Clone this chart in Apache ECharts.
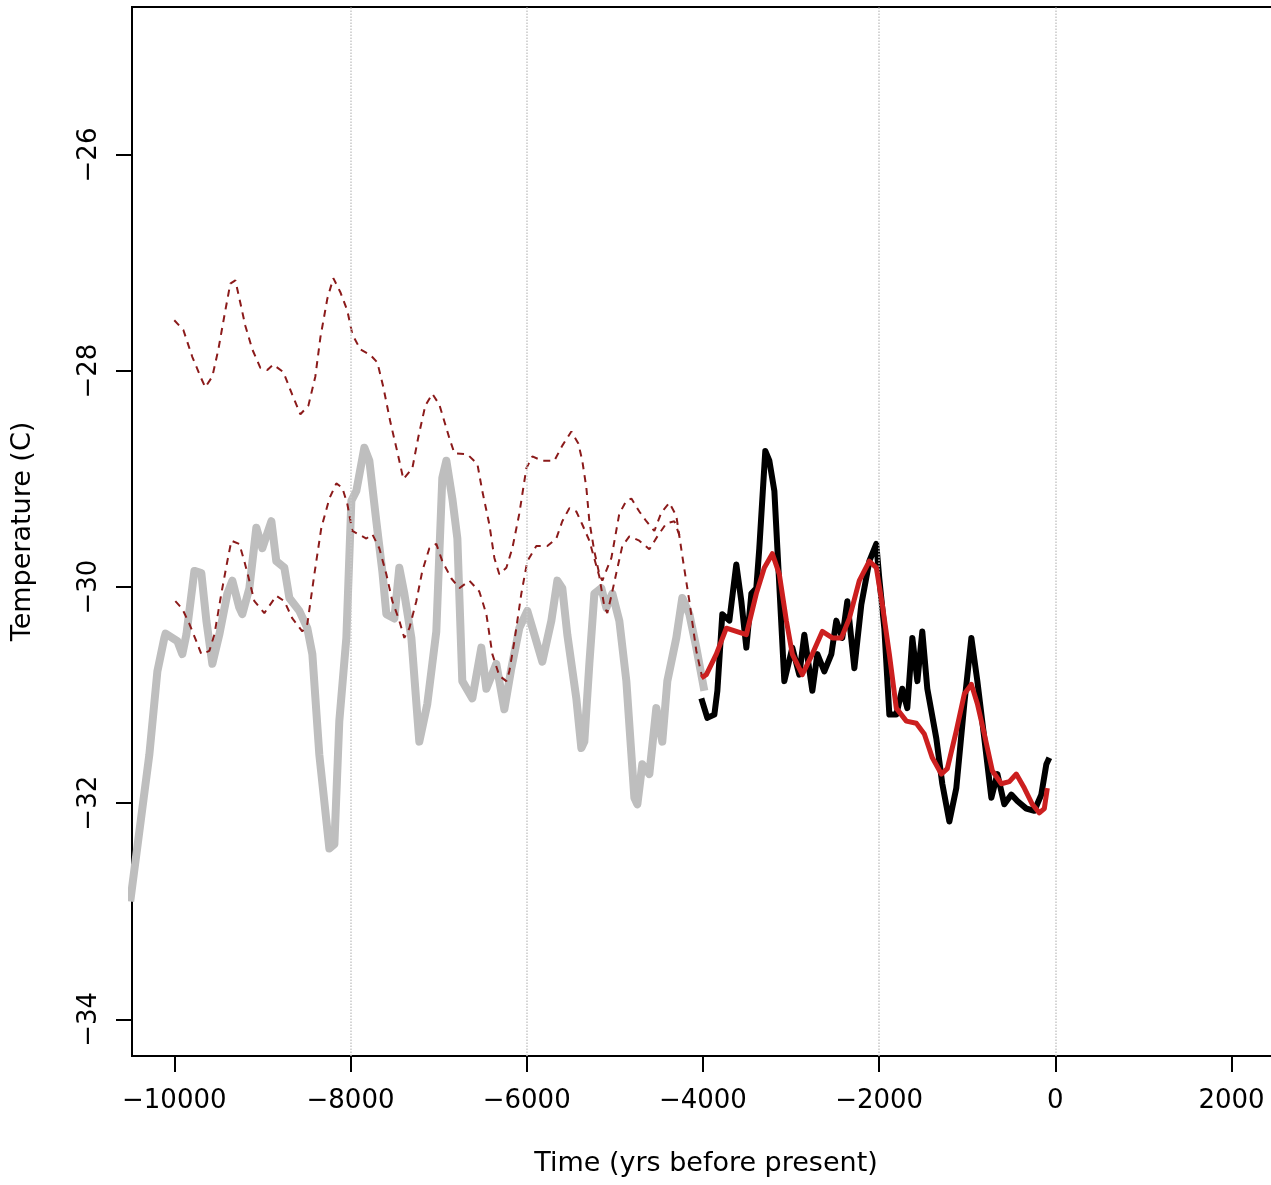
<!DOCTYPE html>
<html>
<head>
<meta charset="utf-8">
<script src="https://cdn.jsdelivr.net/npm/echarts@6/dist/echarts.min.js"></script>
<style>
html,body{margin:0;padding:0;background:#fff;overflow:hidden;width:1271px;height:1185px;}
#chart{width:1400px;height:1185px;}
</style>
</head>
<body>
<div id="chart"></div>
<script>
// ---- Data (years before present, temperature in C) ----
var xTicks = [-10000, -8000, -6000, -4000, -2000, 0, 2000];
var yTicks = [-34, -32, -30, -28, -26];
var gridYears = [-8000, -6000, -2000, 0];

var grayYears = [-10500,-10283,-10192,-10113,-10099,-9965,-9909,-9863,-9772,-9693,-9636,-9568,-9489,-9398,-9341,-9262,-9228,-9148,-9069,-9001,-8898,-8842,-8751,-8694,-8581,-8490,-8433,-8354,-8240,-8183,-8127,-8047,-7990,-7934,-7843,-7786,-7707,-7639,-7593,-7502,-7446,-7389,-7309,-7219,-7128,-7026,-6958,-6912,-6844,-6787,-6731,-6617,-6515,-6458,-6345,-6254,-6174,-6084,-5993,-5913,-5823,-5720,-5652,-5596,-5539,-5437,-5380,-5346,-5289,-5232,-5153,-5096,-5028,-4949,-4869,-4778,-4744,-4688,-4608,-4529,-4461,-4404,-4302,-4234,-4154,-4075,-4018,-3984];
var grayTemps = [-32.91,-31.55,-30.78,-30.47,-30.43,-30.50,-30.62,-30.44,-29.85,-29.87,-30.31,-30.71,-30.44,-30.06,-29.94,-30.19,-30.25,-30.01,-29.45,-29.64,-29.39,-29.76,-29.82,-30.10,-30.22,-30.38,-30.62,-31.55,-32.42,-32.38,-31.24,-30.47,-29.20,-29.11,-28.71,-28.83,-29.39,-29.85,-30.25,-30.29,-29.82,-30.06,-30.47,-31.43,-31.08,-30.41,-28.99,-28.83,-29.18,-29.55,-30.87,-31.03,-30.56,-30.94,-30.71,-31.13,-30.75,-30.38,-30.22,-30.44,-30.69,-30.31,-29.94,-30.01,-30.44,-31.03,-31.49,-31.43,-30.71,-30.06,-30.01,-30.19,-30.06,-30.31,-30.87,-31.95,-32.01,-31.64,-31.73,-31.12,-31.43,-30.87,-30.47,-30.10,-30.25,-30.56,-30.81,-30.96];

var blackYears = [-4018,-3950,-3870,-3836,-3780,-3700,-3621,-3564,-3507,-3450,-3394,-3360,-3292,-3246,-3189,-3155,-3076,-2985,-2906,-2849,-2758,-2701,-2622,-2542,-2486,-2418,-2361,-2281,-2202,-2111,-2032,-1998,-1941,-1884,-1805,-1737,-1680,-1623,-1566,-1510,-1453,-1351,-1283,-1203,-1124,-1033,-953,-885,-806,-726,-658,-579,-499,-431,-329,-238,-159,-102,-68];
var blackTemps = [-31.03,-31.21,-31.18,-30.96,-30.25,-30.31,-29.79,-30.13,-30.56,-30.06,-30.01,-29.64,-28.74,-28.83,-29.11,-29.64,-30.87,-30.56,-30.81,-30.44,-30.96,-30.62,-30.78,-30.62,-30.31,-30.47,-30.13,-30.75,-30.16,-29.76,-29.60,-29.92,-30.38,-31.18,-31.18,-30.94,-31.12,-30.47,-30.87,-30.41,-30.94,-31.40,-31.82,-32.17,-31.86,-31.08,-30.47,-30.87,-31.40,-31.95,-31.73,-32.01,-31.92,-31.98,-32.05,-32.07,-31.92,-31.64,-31.58];

var redYears = [-4018,-3961,-3848,-3734,-3621,-3507,-3394,-3303,-3212,-3133,-3053,-2985,-2872,-2758,-2645,-2531,-2429,-2338,-2225,-2111,-2032,-1964,-1884,-1805,-1691,-1578,-1487,-1396,-1294,-1226,-1124,-1033,-953,-885,-806,-715,-613,-522,-443,-352,-261,-182,-125,-91];
var redTemps = [-30.84,-30.81,-30.62,-30.38,-30.41,-30.44,-30.06,-29.82,-29.69,-29.88,-30.31,-30.62,-30.81,-30.62,-30.41,-30.47,-30.47,-30.29,-29.94,-29.76,-29.82,-30.16,-30.62,-31.12,-31.24,-31.26,-31.36,-31.58,-31.73,-31.68,-31.33,-30.99,-30.90,-31.08,-31.36,-31.70,-31.82,-31.80,-31.73,-31.86,-32.01,-32.09,-32.05,-31.86];

var upperYears = [-10000,-9897,-9795,-9704,-9648,-9568,-9500,-9421,-9364,-9307,-9250,-9194,-9114,-9023,-8944,-8876,-8762,-8660,-8569,-8478,-8399,-8342,-8263,-8195,-8115,-8036,-7979,-7888,-7775,-7695,-7627,-7548,-7468,-7400,-7298,-7230,-7151,-7071,-6992,-6878,-6821,-6674,-6560,-6504,-6424,-6367,-6311,-6231,-6163,-6084,-6004,-5936,-5823,-5686,-5596,-5493,-5414,-5369,-5323,-5289,-5232,-5176,-5142,-5039,-4949,-4869,-4812,-4722,-4642,-4551,-4472,-4381,-4302,-4234,-4154,-4075,-4007];
var upperTemps = [-27.53,-27.62,-27.87,-28.05,-28.15,-28.05,-27.80,-27.44,-27.19,-27.16,-27.37,-27.58,-27.80,-27.97,-27.99,-27.94,-28.01,-28.22,-28.40,-28.32,-28.05,-27.69,-27.33,-27.14,-27.27,-27.44,-27.66,-27.80,-27.85,-27.92,-28.15,-28.47,-28.75,-29.00,-28.90,-28.61,-28.32,-28.21,-28.31,-28.62,-28.76,-28.77,-28.86,-29.11,-29.42,-29.73,-29.88,-29.82,-29.64,-29.32,-28.90,-28.79,-28.83,-28.83,-28.69,-28.56,-28.67,-28.83,-29.08,-29.39,-29.67,-29.88,-29.94,-29.73,-29.32,-29.20,-29.18,-29.30,-29.39,-29.48,-29.31,-29.22,-29.34,-29.71,-30.13,-30.59,-30.84];

var lowerYears = [-9988,-9909,-9829,-9750,-9693,-9602,-9545,-9466,-9398,-9352,-9262,-9205,-9148,-9091,-8978,-8842,-8751,-8660,-8547,-8490,-8410,-8331,-8240,-8161,-8093,-8036,-7979,-7820,-7752,-7673,-7593,-7525,-7446,-7389,-7332,-7253,-7185,-7105,-7026,-6958,-6855,-6765,-6651,-6538,-6458,-6390,-6311,-6231,-6197,-6140,-6061,-5993,-5891,-5766,-5664,-5596,-5516,-5437,-5369,-5289,-5176,-5119,-5085,-5039,-4983,-4915,-4835,-4722,-4608,-4517,-4415,-4324,-4245];
var lowerTemps = [-30.13,-30.20,-30.34,-30.50,-30.62,-30.59,-30.44,-30.06,-29.76,-29.57,-29.60,-29.76,-29.94,-30.13,-30.24,-30.08,-30.13,-30.29,-30.41,-30.34,-29.88,-29.45,-29.18,-29.04,-29.08,-29.23,-29.48,-29.55,-29.51,-29.64,-29.88,-30.13,-30.31,-30.47,-30.38,-30.13,-29.85,-29.64,-29.60,-29.76,-29.92,-30.01,-29.94,-30.04,-30.25,-30.62,-30.82,-30.87,-30.78,-30.50,-30.06,-29.76,-29.62,-29.62,-29.55,-29.39,-29.27,-29.30,-29.42,-29.57,-29.90,-30.18,-30.24,-30.08,-29.87,-29.62,-29.53,-29.57,-29.65,-29.53,-29.41,-29.39,-29.57];

function zip(a, b) { return a.map(function (v, i) { return [v, b[i]]; }); }
function fmt(v) { return v < 0 ? '\u2212' + Math.abs(v) : String(v); }

var FONT = 'DejaVu Sans';
var chart = echarts.init(document.getElementById('chart'), null, {renderer: 'canvas'});

var lineBase = {type: 'line', showSymbol: false, symbol: 'none', smooth: false, clip: true, animation: false, silent: true};

chart.setOption({
  animation: false,
  backgroundColor: '#ffffff',
  grid: {left: 132, top: 7, width: 1148, height: 1049, outerBoundsMode: 'none', containLabel: false,
    show: true, borderColor: '#000', borderWidth: 2, backgroundColor: 'transparent'},
  xAxis: {
    type: 'value', min: -10480, max: 2550,
    name: 'Time (yrs before present)', nameLocation: 'middle', nameGap: 94,
    nameTextStyle: {fontFamily: FONT, fontSize: 27, color: '#000'},
    axisLine: {show: true, onZero: false, lineStyle: {color: '#000', width: 2}},
    axisTick: {show: true, inside: false, length: 16, lineStyle: {color: '#000', width: 2}, customValues: xTicks},
    axisLabel: {show: true, margin: 32, fontFamily: FONT, fontSize: 26, color: '#000', customValues: xTicks, formatter: fmt},
    splitLine: {show: false}
  },
  yAxis: {
    type: 'value', min: -34.34, max: -24.63,
    name: 'Temperature (C)', nameLocation: 'middle', nameGap: 96, nameRotate: 90,
    nameTextStyle: {fontFamily: FONT, fontSize: 27, color: '#000'},
    axisLine: {show: true, onZero: false, lineStyle: {color: '#000', width: 2}},
    axisTick: {show: true, inside: false, length: 16, lineStyle: {color: '#000', width: 2}, customValues: yTicks},
    axisLabel: {show: true, rotate: 90, margin: 30, fontFamily: FONT, fontSize: 26, color: '#000', customValues: yTicks, formatter: fmt},
    splitLine: {show: false}
  },
  series: [
    Object.assign({}, lineBase, {
      name: 'grid', data: [], z: 1,
      markLine: {silent: true, symbol: ['none', 'none'], label: {show: false}, animation: false,
        lineStyle: {type: 'dotted', color: '#c8c8c8', width: 1.5},
        data: gridYears.map(function (y) { return {xAxis: y}; })}
    }),
    Object.assign({}, lineBase, {name: 'gray', data: zip(grayYears, grayTemps), z: 2,
      lineStyle: {color: '#bebebe', width: 8, join: 'round'}}),
    Object.assign({}, lineBase, {name: 'upper', data: zip(upperYears, upperTemps), z: 3,
      lineStyle: {color: '#8b1a1a', width: 2, type: [7, 6]}}),
    Object.assign({}, lineBase, {name: 'lower', data: zip(lowerYears, lowerTemps), z: 3,
      lineStyle: {color: '#8b1a1a', width: 2, type: [7, 6]}}),
    Object.assign({}, lineBase, {name: 'black', data: zip(blackYears, blackTemps), z: 4,
      lineStyle: {color: '#000000', width: 6, join: 'round'}}),
    Object.assign({}, lineBase, {name: 'red', data: zip(redYears, redTemps), z: 5,
      lineStyle: {color: '#cc1f1f', width: 5, join: 'round'}})
  ]
});
</script>
</body>
</html>
